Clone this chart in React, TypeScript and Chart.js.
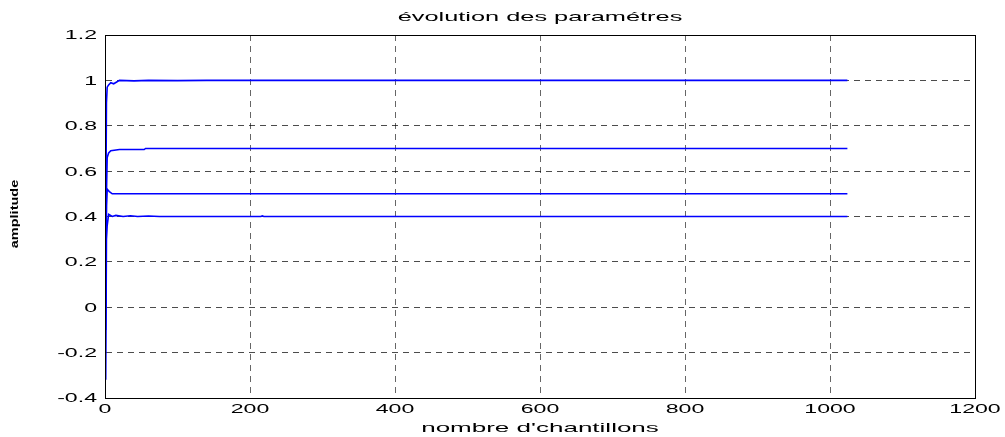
import React, { useEffect, useRef } from "react";
import { Chart, registerables } from "chart.js";

Chart.register(...registerables);

const titleText = "évolution des paramétres";
const xLabel = "nombre d'chantillons";
const yLabel = "amplitude";

const xTicks = [0, 200, 400, 600, 800, 1000, 1200];
const yTicks = [-0.4, -0.2, 0, 0.2, 0.4, 0.6, 0.8, 1, 1.2];

// series converging to 1.0
const s1X = [0, 1, 2, 3, 5, 8, 12, 20, 40, 60, 100, 140, 1024];
const s1Y = [0, 0.35, 0.9, 0.97, 0.98, 0.99, 0.985, 1.0, 0.998, 1.0, 0.999, 1.0, 1.0];
// series converging to 0.7
const s2X = [0, 1, 2, 3, 5, 8, 20, 54, 56, 1024];
const s2Y = [0, -0.1, 0.5, 0.66, 0.68, 0.69, 0.695, 0.695, 0.7, 0.7];
// series converging to 0.5
const s3X = [0, 1, 2, 3, 6, 10, 1024];
const s3Y = [0, 0.2, 0.45, 0.52, 0.51, 0.5, 0.5];
// series converging to 0.4
const s4X = [0, 1, 2, 3, 5, 10, 15, 25, 35, 45, 60, 75, 100, 215, 217, 219, 1024];
const s4Y = [0, -0.32, 0.3, 0.36, 0.41, 0.4, 0.405, 0.4, 0.403, 0.4, 0.402, 0.4, 0.4, 0.4, 0.403, 0.4, 0.4];

const toPts = (xs: number[], ys: number[]) => xs.map((x, i) => ({ x, y: ys[i] }));
const FONT = "'Liberation Sans', Arial, sans-serif";

function drawStretched(ctx: CanvasRenderingContext2D, text: string, x: number, y: number, size: number, sx: number, align: CanvasTextAlign) {
  ctx.save();
  ctx.translate(x, y);
  ctx.scale(sx, 1);
  ctx.font = `${size}px ${FONT}`;
  ctx.textAlign = align;
  ctx.textBaseline = "middle";
  ctx.fillText(text, 0, 0);
  ctx.restore();
}

export default function App() {
  const ref = useRef<HTMLCanvasElement | null>(null);
  useEffect(() => {
    if (!ref.current) return;
    const textPlugin = {
      id: "texts",
      afterDraw(chart: any) {
        const ctx = chart.ctx as CanvasRenderingContext2D;
        const a = chart.chartArea;
        const xs = chart.scales.x;
        const ys = chart.scales.y;
        ctx.save();
        ctx.strokeStyle = "#000";
        ctx.lineWidth = 1;
        ctx.setLineDash([]);
        ctx.strokeRect(Math.round(a.left) + 0.5, Math.round(a.top) + 0.5, Math.round(a.right - a.left), Math.round(a.bottom - a.top));
        ctx.fillStyle = "#000";
        drawStretched(ctx, titleText, (a.left + a.right) / 2, 17, 13, 1.95, "center");
        drawStretched(ctx, xLabel, (a.left + a.right) / 2, 428, 13, 2.0, "center");
        for (const v of xTicks) {
          drawStretched(ctx, String(v), xs.getPixelForValue(v), 410, 12.5, 1.85, "center");
        }
        for (const v of yTicks) {
          drawStretched(ctx, String(Number(v.toFixed(1))), 97, ys.getPixelForValue(v) + 1, 12.5, 1.85, "right");
        }
        ctx.translate(15, 214);
        ctx.rotate(-Math.PI / 2);
        ctx.scale(1.45, 1);
        ctx.font = `bold 10px ${FONT}`;
        ctx.textAlign = "center";
        ctx.textBaseline = "middle";
        ctx.fillText(yLabel, 0, 0);
        ctx.restore();
      },
    };
    const mk = (xs: number[], ys: number[]) => ({
      data: toPts(xs, ys),
      borderColor: "#0000ff",
      borderWidth: 1.6,
      pointRadius: 0,
      fill: false,
      tension: 0,
    });
    const edgeColor = (c: any) => {
      const v = c.tick?.value;
      if (c.scale.axis === "x") return v === 0 || v === 1200 ? "rgba(0,0,0,0)" : "rgba(0,0,0,0.6)";
      return Math.abs(v - -0.4) < 1e-6 || Math.abs(v - 1.2) < 1e-6 ? "rgba(0,0,0,0)" : "rgba(0,0,0,0.7)";
    };
    const chart = new Chart(ref.current, {
      type: "line",
      data: {
        datasets: [mk(s1X, s1Y), mk(s2X, s2Y), mk(s3X, s3Y), mk(s4X, s4Y)],
      },
      plugins: [textPlugin],
      options: {
        animation: false,
        responsive: false,
        maintainAspectRatio: false,
        layout: { padding: { top: 35, right: 30, left: 0, bottom: 0 } },
        plugins: { legend: { display: false }, tooltip: { enabled: false }, title: { display: false } },
        scales: {
          x: {
            type: "linear",
            min: 0,
            max: 1200,
            afterBuildTicks: (s: any) => {
              s.ticks = xTicks.map((v) => ({ value: v }));
            },
            afterFit: (s: any) => {
              s.height = 39;
            },
            ticks: { display: false },
            grid: { color: edgeColor, drawTicks: false, lineWidth: 1 },
            border: { display: true, color: "#000", width: 1, dash: [6, 5] },
          },
          y: {
            type: "linear",
            min: -0.4,
            max: 1.2,
            afterBuildTicks: (s: any) => {
              s.ticks = yTicks.map((v) => ({ value: v }));
            },
            afterFit: (s: any) => {
              s.width = 105;
            },
            ticks: { display: false },
            grid: { color: edgeColor, drawTicks: false, lineWidth: 1 },
            border: { display: true, color: "#000", width: 1, dash: [6, 5] },
          },
        },
      } as any,
    });
    return () => chart.destroy();
  }, []);
  return (
    <div style={{ position: "absolute", left: 0, top: 0, width: 1005, height: 437, background: "#fff" }}>
      <canvas ref={ref} width={1005} height={437} style={{ width: 1005, height: 437 }} />
    </div>
  );
}
